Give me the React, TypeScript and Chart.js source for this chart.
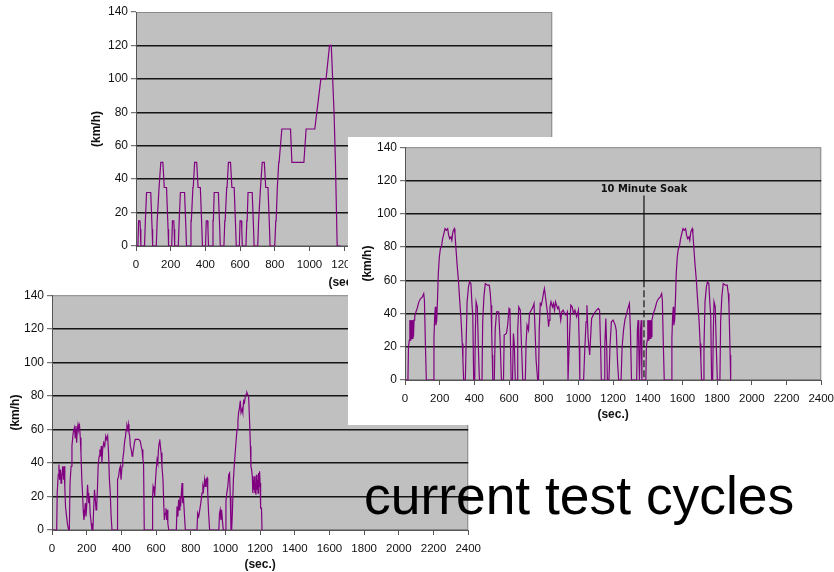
import React, { useEffect, useRef, useState } from "react";
import { Chart, registerables } from "chart.js";

Chart.register(...registerables);

type Pt = [number, number];

// ---------- tick labels / texts ----------
const xTickValues = [0, 200, 400, 600, 800, 1000, 1200, 1400, 1600, 1800, 2000, 2200, 2400];
const yTickValues = [0, 20, 40, 60, 80, 100, 120, 140];
const yAxisTitle = "(km/h)";
const xAxisTitle = "(sec.)";
const soakLabel = "10 Minute Soak";
const soakTime = 1378;
const soakTop = 111;
const soakDashFrom = 60;
const caption = "current test cycles";

// ---------- NEDC (top-left chart): [sec, km/h] ----------
const nedcUrban: Pt[] = [
  [0, 0], [11, 0], [15, 15], [23, 15], [25, 10], [28, 0], [49, 0], [54, 15], [56, 15], [61, 32], [85, 32], [93, 10], [96, 0],
  [117, 0], [122, 15], [124, 15], [133, 35], [135, 35], [143, 50], [155, 50], [163, 35], [176, 35], [185, 10], [188, 0],
  [195, 0], [206, 0], [210, 15], [218, 15], [220, 10], [223, 0], [244, 0], [249, 15], [251, 15], [256, 32], [280, 32], [288, 10], [291, 0],
  [312, 0], [317, 15], [319, 15], [328, 35], [330, 35], [338, 50], [350, 50], [358, 35], [371, 35], [380, 10], [383, 0],
  [390, 0], [401, 0], [405, 15], [413, 15], [415, 10], [418, 0], [439, 0], [444, 15], [446, 15], [451, 32], [475, 32], [483, 10], [486, 0],
  [507, 0], [512, 15], [514, 15], [523, 35], [525, 35], [533, 50], [545, 50], [553, 35], [566, 35], [575, 10], [578, 0],
  [585, 0], [596, 0], [600, 15], [608, 15], [610, 10], [613, 0], [634, 0], [639, 15], [641, 15], [646, 32], [670, 32], [678, 10], [681, 0],
  [702, 0], [707, 15], [709, 15], [718, 35], [720, 35], [728, 50], [740, 50], [748, 35], [761, 35], [770, 10], [773, 0],
];
const nedcExtraUrban: Pt[] = [
  [780, 0], [800, 0], [806, 15], [808, 15], [815, 35], [817, 35], [823, 50], [825, 50], [841, 70], [891, 70], [899, 50],
  [968, 50], [981, 70], [1031, 70], [1066, 100], [1096, 100], [1116, 120], [1126, 120], [1142, 80], [1150, 50], [1160, 0], [1180, 0],
];

// ---------- FTP-75 (right chart) ----------
const ftpCold: Pt[] = [
  [0, 0], [17, 0], [20, 20], [25, 24], [28, 36], [31, 24], [34, 36], [37, 25], [40, 36], [43, 25], [46, 36], [49, 26], [52, 36],
  [56, 38], [60, 40], [70, 43], [80, 47], [90, 49], [100, 50], [108, 52], [112, 48], [118, 20], [123, 0],
  [163, 0], [167, 25], [171, 38], [175, 44], [178, 33], [183, 36], [188, 50], [192, 64], [198, 74], [204, 79], [210, 80],
  [217, 85], [224, 88], [231, 91], [238, 90], [246, 91], [252, 87], [258, 85], [265, 86], [270, 84], [276, 89], [284, 91],
  [288, 88], [292, 82], [300, 70], [308, 60], [316, 47], [324, 35], [330, 22], [334, 12], [338, 0],
  [348, 0], [352, 20], [358, 47], [366, 56], [372, 59], [380, 58], [386, 46], [391, 38], [396, 0],
  [402, 0], [406, 30], [410, 47], [417, 44], [423, 20], [429, 0],
  [444, 0], [448, 35], [455, 50], [463, 58], [475, 57], [486, 57], [492, 52], [496, 45], [500, 28], [503, 15], [506, 0],
];
const ftpStabilized: Pt[] = [
  [515, 0], [520, 30], [528, 41], [540, 41], [548, 25], [556, 0],
  [568, 0], [572, 27], [585, 28], [592, 33], [600, 43], [605, 42], [612, 0],
  [620, 0], [625, 28], [630, 22], [636, 0],
  [646, 0], [650, 30], [656, 44], [665, 42], [672, 20], [679, 0],
  [694, 0], [698, 22], [704, 33], [712, 30], [718, 40], [728, 42], [738, 44], [744, 46], [750, 30], [756, 12], [765, 0],
  [770, 0], [774, 30], [780, 46], [786, 45], [792, 48], [800, 53], [804, 55], [810, 50], [816, 45], [822, 40], [828, 32],
  [832, 36], [836, 44], [842, 47], [850, 44], [856, 46], [862, 42], [868, 47], [874, 45], [880, 43], [886, 44], [892, 41],
  [898, 36], [904, 41], [912, 42], [920, 40], [928, 39], [936, 41], [940, 0],
  [945, 0], [950, 30], [956, 45], [964, 44], [972, 40], [980, 42], [990, 38], [1000, 42], [1005, 20], [1008, 0],
  [1030, 0], [1036, 17], [1044, 35], [1049, 45], [1056, 25], [1065, 15], [1070, 25], [1076, 37], [1090, 40], [1105, 42],
  [1115, 43], [1122, 42], [1128, 20], [1132, 0],
  [1148, 0], [1152, 20], [1158, 37], [1163, 20], [1167, 0],
  [1176, 0], [1182, 20], [1190, 35], [1200, 36], [1212, 33], [1218, 30], [1226, 10], [1232, 0],
  [1246, 0], [1252, 20], [1260, 30], [1268, 36], [1278, 40], [1288, 44], [1294, 46], [1300, 30], [1306, 0],
  [1336, 0], [1340, 30], [1344, 36], [1348, 20], [1352, 0], [1358, 30], [1362, 36], [1366, 0],
];
const ftpHot: Pt[] = [
  [1389, 0], [1392, 20], [1397, 24], [1400, 36], [1403, 24], [1406, 36], [1409, 25], [1412, 36], [1415, 25], [1418, 36],
  [1421, 26], [1424, 36], [1428, 38], [1432, 40], [1442, 43], [1452, 47], [1462, 49], [1472, 50], [1480, 52], [1484, 48],
  [1490, 20], [1495, 0],
  [1535, 0], [1539, 25], [1543, 38], [1547, 44], [1550, 33], [1555, 36], [1560, 50], [1564, 64], [1570, 74], [1576, 79],
  [1582, 80], [1589, 85], [1596, 88], [1603, 91], [1610, 90], [1618, 91], [1624, 87], [1630, 85], [1637, 86], [1642, 84],
  [1648, 89], [1656, 91], [1660, 88], [1664, 82], [1672, 70], [1680, 60], [1688, 47], [1696, 35], [1702, 22], [1706, 12], [1710, 0],
  [1720, 0], [1724, 20], [1730, 47], [1738, 56], [1744, 59], [1752, 58], [1758, 46], [1763, 38], [1768, 0],
  [1774, 0], [1778, 30], [1782, 47], [1789, 44], [1795, 20], [1801, 0],
  [1816, 0], [1820, 35], [1827, 50], [1835, 58], [1847, 57], [1858, 57], [1864, 52], [1868, 45], [1872, 28], [1875, 15], [1878, 0],
];

// ---------- Japanese cycle (bottom-left chart) ----------
const jc08: Pt[] = [
  [0, 0], [27, 0], [30, 22], [36, 33], [40, 39], [44, 30], [48, 36], [52, 28], [56, 32], [62, 38], [66, 30], [70, 38], [74, 25], [78, 14], [84, 8], [90, 3], [96, 0],
  [100, 0], [104, 28], [110, 38], [115, 50], [122, 58], [129, 61], [134, 55], [138, 62], [142, 52], [146, 60], [150, 63], [155, 60], [159, 62],
  [163, 55], [167, 46], [172, 30], [176, 22], [180, 12], [184, 6], [188, 10], [192, 16], [196, 8], [200, 14], [205, 27], [208, 22], [212, 16], [216, 20], [220, 10], [226, 4], [230, 0],
  [236, 0], [240, 12], [245, 24], [250, 18], [254, 12], [258, 15], [262, 24], [266, 38], [272, 44], [276, 48], [280, 44], [284, 50], [288, 40], [292, 48],
  [298, 52], [304, 50], [310, 56], [316, 54], [321, 56], [326, 46], [331, 30], [336, 22], [341, 8], [346, 0],
  [375, 0], [378, 30], [384, 32], [389, 36], [394, 38], [398, 30], [404, 38], [408, 42], [413, 46], [418, 52], [424, 56], [428, 60], [432, 62], [436, 60],
  [440, 63], [444, 58], [448, 56], [452, 50], [457, 48], [462, 44], [466, 46], [470, 48], [475, 52], [480, 54], [490, 54], [500, 54], [509, 53], [514, 50],
  [519, 48], [524, 42], [528, 40], [532, 0],
  [577, 0], [580, 20], [583, 26], [588, 24], [592, 20], [597, 30], [601, 36], [606, 42], [610, 40], [614, 48], [618, 52], [621, 54], [625, 50], [629, 46],
  [634, 38], [640, 30], [645, 14], [648, 6], [652, 10], [657, 13], [661, 6], [665, 12], [668, 4], [673, 0],
  [717, 0], [721, 14], [726, 8], [730, 18], [734, 12], [738, 20], [742, 14], [746, 22], [750, 28], [754, 16], [758, 20], [763, 10], [769, 0],
  [836, 0], [840, 10], [846, 8], [852, 12], [858, 16], [865, 22], [870, 26], [874, 24], [880, 30], [884, 26], [888, 30], [894, 31], [898, 22], [903, 10], [909, 0],
  [962, 0], [966, 10], [970, 12], [974, 6], [978, 12], [984, 4], [988, 0],
  [998, 0], [1003, 17], [1008, 22], [1014, 26], [1019, 33], [1024, 34], [1028, 20], [1032, 0], [1036, 0], [1040, 10], [1046, 30], [1052, 40],
  [1057, 47], [1063, 55], [1067, 60], [1072, 65], [1076, 70], [1080, 72], [1086, 77], [1090, 70], [1096, 72], [1100, 70], [1105, 77], [1110, 76],
  [1115, 80], [1120, 81], [1124, 82], [1128, 81], [1134, 79], [1140, 63], [1144, 50], [1147, 38], [1151, 36], [1155, 32], [1158, 22], [1161, 30],
  [1164, 24], [1167, 32], [1170, 22], [1173, 28], [1176, 21], [1179, 33], [1182, 24], [1185, 30], [1188, 22], [1191, 34], [1194, 26], [1197, 35],
  [1200, 28], [1203, 13], [1208, 13], [1211, 0],
];

// ---------- styling ----------
const FONT = "'Liberation Sans', Arial, Helvetica, sans-serif";
const PURPLE = "#800080";
const AXIS = "#555555";

const toXY = (pts: Pt[]) => pts.map(([x, y]) => ({ x, y }));

const plotBg = {
  id: "plotBg",
  beforeDraw(chart: any) {
    const { ctx, chartArea: a } = chart;
    if (!a) return;
    ctx.save();
    ctx.fillStyle = "#c0c0c0";
    ctx.fillRect(a.left, a.top, a.right - a.left, a.bottom - a.top);
    ctx.strokeStyle = "#8a8a8a";
    ctx.lineWidth = 1;
    ctx.strokeRect(a.left + 0.5, a.top + 0.5, a.right - a.left - 1, a.bottom - a.top - 1);
    ctx.restore();
  },
};

const soakLabelPlugin = {
  id: "soakLabel",
  afterDatasetsDraw(chart: any) {
    const { ctx, scales } = chart;
    const x = scales.x.getPixelForValue(soakTime);
    const y = scales.y.getPixelForValue(soakTop);
    ctx.save();
    ctx.font = "bold 11px 'Liberation Sans Narrow', 'DejaVu Sans Condensed', " + FONT;
    ctx.fillStyle = "#111";
    ctx.textAlign = "center";
    ctx.textBaseline = "alphabetic";
    ctx.fillText(soakLabel, x, y - 3);
    ctx.restore();
  },
};

interface Geo {
  left: number;
  top: number;
  width: number;
  boxWidth: number;
  height: number;
  padTop: number;
  yAxisWidth: number;
  xAxisHeight: number;
  yTitlePad: number;
  xTitlePad: number;
  bg?: string;
}

function lineDs(pts: Pt[], extra: any = {}) {
  return {
    data: toXY(pts),
    borderColor: PURPLE,
    borderWidth: 1.2,
    pointRadius: 0,
    tension: 0,
    fill: false,
    ...extra,
  };
}

function buildConfig(g: Geo, datasets: any[], extraPlugins: any[] = []): any {
  return {
    type: "line",
    data: { datasets },
    options: {
      animation: false,
      responsive: false,
      events: [],
      layout: { padding: { left: 0, top: g.padTop, right: 0, bottom: 0 } },
      plugins: { legend: { display: false }, tooltip: { enabled: false } },
      scales: {
        x: {
          type: "linear",
          min: 0,
          max: 2400,
          afterBuildTicks: (s: any) => {
            s.ticks = xTickValues.map((value) => ({ value }));
          },
          afterFit: (s: any) => {
            s.height = g.xAxisHeight;
          },
          ticks: {
            autoSkip: false,
            maxRotation: 0,
            minRotation: 0,
            padding: 7,
            color: "#111",
            font: { family: FONT, size: 11.5 },
            callback: (v: any) => String(v),
          },
          grid: { drawOnChartArea: false, drawTicks: true, tickLength: 5, tickColor: AXIS, tickWidth: 1 },
          border: { display: true, color: AXIS, width: 1 },
          title: {
            display: true,
            text: xAxisTitle,
            color: "#111",
            font: { family: FONT, size: 12, weight: "bold" },
            padding: { top: 0, bottom: g.xTitlePad },
          },
        },
        y: {
          type: "linear",
          min: 0,
          max: 140,
          afterBuildTicks: (s: any) => {
            s.ticks = yTickValues.map((value) => ({ value }));
          },
          afterFit: (s: any) => {
            s.width = g.yAxisWidth;
          },
          ticks: {
            padding: 3,
            color: "#111",
            font: { family: FONT, size: 12 },
            callback: (v: any) => String(v),
          },
          grid: {
            color: (c: any) =>
              c.tick && (c.tick.value === 0 || c.tick.value === 140) ? "rgba(0,0,0,0)" : "#151515",
            lineWidth: 1.4,
            drawTicks: true,
            tickLength: 5,
            tickColor: AXIS,
            tickWidth: 1,
          },
          border: { display: true, color: AXIS, width: 1 },
          title: {
            display: true,
            text: yAxisTitle,
            color: "#111",
            font: { family: FONT, size: 12, weight: "bold" },
            padding: { top: g.yTitlePad, bottom: 0 },
          },
        },
      },
    },
    plugins: [plotBg, ...extraPlugins],
  };
}

function CycleChart({ geo, make }: { geo: Geo; make: () => any }) {
  const ref = useRef<HTMLCanvasElement | null>(null);
  const [err, setErr] = useState<string>("");
  useEffect(() => {
    if (!ref.current) return;
    let chart: any = null;
    try {
      chart = new Chart(ref.current, make());
    } catch (e: any) {
      setErr(String(e && e.stack ? e.stack : e));
    }
    return () => {
      if (chart) chart.destroy();
    };
  }, []);
  return (
    <div
      style={{
        position: "absolute",
        left: geo.left,
        top: geo.top,
        width: geo.boxWidth,
        height: geo.height,
        overflow: "hidden",
        background: geo.bg || "transparent",
      }}
    >
      <canvas
        ref={ref}
        width={geo.width}
        height={geo.height}
        style={{ display: "block", width: geo.width, height: geo.height }}
      />
      {err ? (
        <pre style={{ position: "absolute", left: 0, top: 0, fontSize: 9, color: "red", whiteSpace: "pre-wrap", margin: 0 }}>
          {err}
        </pre>
      ) : null}
    </div>
  );
}

const geoNedc: Geo = {
  left: 80, top: 0, width: 492, boxWidth: 492, height: 290,
  padTop: 12, yAxisWidth: 56, xAxisHeight: 44, yTitlePad: 9.5, xTitlePad: 0,
};
const geoJc08: Geo = {
  left: 0, top: 285, width: 488, boxWidth: 488, height: 287,
  padTop: 10, yAxisWidth: 52, xAxisHeight: 42, yTitlePad: 8, xTitlePad: 0,
};
const geoFtp: Geo = {
  left: 348, top: 137, width: 493, boxWidth: 486, height: 288,
  padTop: 10, yAxisWidth: 57, xAxisHeight: 45, yTitlePad: 12.8, xTitlePad: 2.8, bg: "#ffffff",
};

export default function App() {
  useEffect(() => {
    document.body.style.overflow = "hidden";
  }, []);
  return (
    <div>
      <CycleChart
        geo={geoNedc}
        make={() => buildConfig(geoNedc, [lineDs(nedcUrban.concat(nedcExtraUrban))])}
      />
      <CycleChart geo={geoJc08} make={() => buildConfig(geoJc08, [lineDs(jc08)])} />
      <CycleChart
        geo={geoFtp}
        make={() =>
          buildConfig(
            geoFtp,
            [
              lineDs(ftpCold.concat(ftpStabilized, ftpHot)),
              lineDs([[soakTime, soakTop], [soakTime, soakDashFrom]], { borderColor: "#111", borderWidth: 1.2 }),
              lineDs([[soakTime, soakDashFrom], [soakTime, 0]], { borderColor: "#111", borderWidth: 1.2, borderDash: [7, 3] }),
            ],
            [soakLabelPlugin]
          )
        }
      />
      <div
        style={{
          position: "absolute",
          left: 364,
          top: 469,
          fontFamily: FONT,
          fontSize: 53.4,
          lineHeight: 1,
          color: "#000",
          whiteSpace: "nowrap",
        }}
      >
        {caption}
      </div>
    </div>
  );
}
